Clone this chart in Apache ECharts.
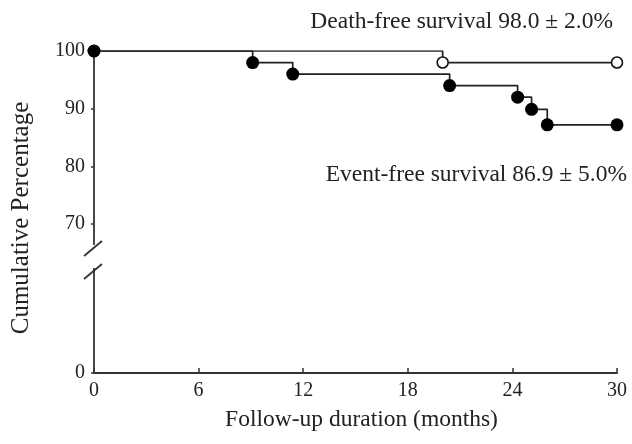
<!DOCTYPE html>
<html><head><meta charset="utf-8">
<script src="https://cdn.jsdelivr.net/npm/echarts@6/dist/echarts.min.js"></script>
<style>html,body{margin:0;padding:0;background:#fff}#c{width:632px;height:444px}</style>
</head><body><div id="c"></div>
<script>
// Data (months, cumulative %)
const deathFreeX = [0, 20, 30];
const deathFreeY = [100, 98, 98];
const eventFreeX = [0, 9.1, 11.4, 20.4, 24.3, 25.1, 26.0, 30];
const eventFreeY = [100, 98, 96, 94, 92, 89.9, 87.2, 87.2];
const xTicks = [0, 6, 12, 18, 24, 30];
const yTicks = [0, 70, 80, 90, 100];
const deathFreeLabel = 'Death-free survival 98.0 ± 2.0%';
const eventFreeLabel = 'Event-free survival 86.9 ± 5.0%';

// broken axis: values below the break are drawn at a compressed position
const ZERO_POS = 44.2;
const toAxis = v => v >= 70 ? v : ZERO_POS;
const yAxisTicks = yTicks.map(toAxis);

const font = 'Liberation Serif';
const ink = '#222';
const chart = echarts.init(document.getElementById('c'));
const pairs = (xs, ys) => xs.map((x, i) => [x, ys[i]]);

chart.setOption({
  animation: false,
  grid: { left: 94, right: 15, top: 51, bottom: 71, containLabel: false },
  xAxis: {
    type: 'value', min: 0, max: 30, interval: 6,
    axisLine: { lineStyle: { color: '#333', width: 1.8 } },
    axisTick: { inside: true, length: 5, lineStyle: { color: '#333', width: 1.5 } },
    splitLine: { show: false },
    axisLabel: { color: ink, fontFamily: font, fontSize: 20, margin: 8 },
    name: 'Follow-up duration (months)', nameLocation: 'middle', nameGap: 35,
    nameTextStyle: { color: ink, fontFamily: font, fontSize: 23.5, padding: [0, 0, 0, 12] }
  },
  yAxis: {
    type: 'value', min: ZERO_POS, max: 100,
    axisLine: { show: false },
    axisTick: { show: true, customValues: yAxisTicks, length: 3, lineStyle: { color: '#333', width: 1.5 } },
    splitLine: { show: false },
    axisLabel: {
      customValues: yAxisTicks, color: ink, fontFamily: font, fontSize: 20, margin: 9,
      formatter: v => String(yTicks[yAxisTicks.indexOf(v)])
    },
    name: 'Cumulative Percentage', nameLocation: 'middle', nameGap: 60,
    nameTextStyle: { color: ink, fontFamily: font, fontSize: 25, padding: [0, 12, 0, 0] }
  },
  series: [
    {
      type: 'line', step: 'end', data: pairs(deathFreeX, deathFreeY),
      lineStyle: { color: ink, width: 1.7 },
      symbol: 'circle', symbolSize: 11,
      itemStyle: { color: '#fff', borderColor: '#111', borderWidth: 1.6 }, z: 3
    },
    {
      type: 'line', step: 'end', data: pairs(eventFreeX, eventFreeY),
      lineStyle: { color: ink, width: 1.7 },
      symbol: 'circle', symbolSize: 13,
      itemStyle: { color: '#000', borderColor: '#000', borderWidth: 0 }, z: 4
    }
  ]
});

// axis line with break marks
const px = (x, y) => chart.convertToPixel({ gridIndex: 0 }, [x, y]);
const pTop = px(0, 100), pBot = px(0, ZERO_POS);
const ax = pTop[0];
const b1 = 249, b2 = 272;
const stroke = { stroke: '#333', lineWidth: 1.8 };
chart.setOption({
  graphic: [
    { type: 'line', shape: { x1: ax, y1: pTop[1], x2: ax, y2: b1 - 4 }, style: stroke },
    { type: 'line', shape: { x1: ax, y1: b2 - 4, x2: ax, y2: pBot[1] }, style: stroke },
    { type: 'line', shape: { x1: ax - 10, y1: b1 + 7, x2: ax + 8, y2: b1 - 8 }, style: stroke },
    { type: 'line', shape: { x1: ax - 10, y1: b2 + 7, x2: ax + 8, y2: b2 - 8 }, style: stroke },
    { type: 'text', x: 613, y: 22, style: { text: deathFreeLabel, fill: ink, font: '23.5px "Liberation Serif"', align: 'right', verticalAlign: 'middle' } },
    { type: 'text', x: 627, y: 175, style: { text: eventFreeLabel, fill: ink, font: '23.5px "Liberation Serif"', align: 'right', verticalAlign: 'middle' } }
  ]
});
</script></body></html>
